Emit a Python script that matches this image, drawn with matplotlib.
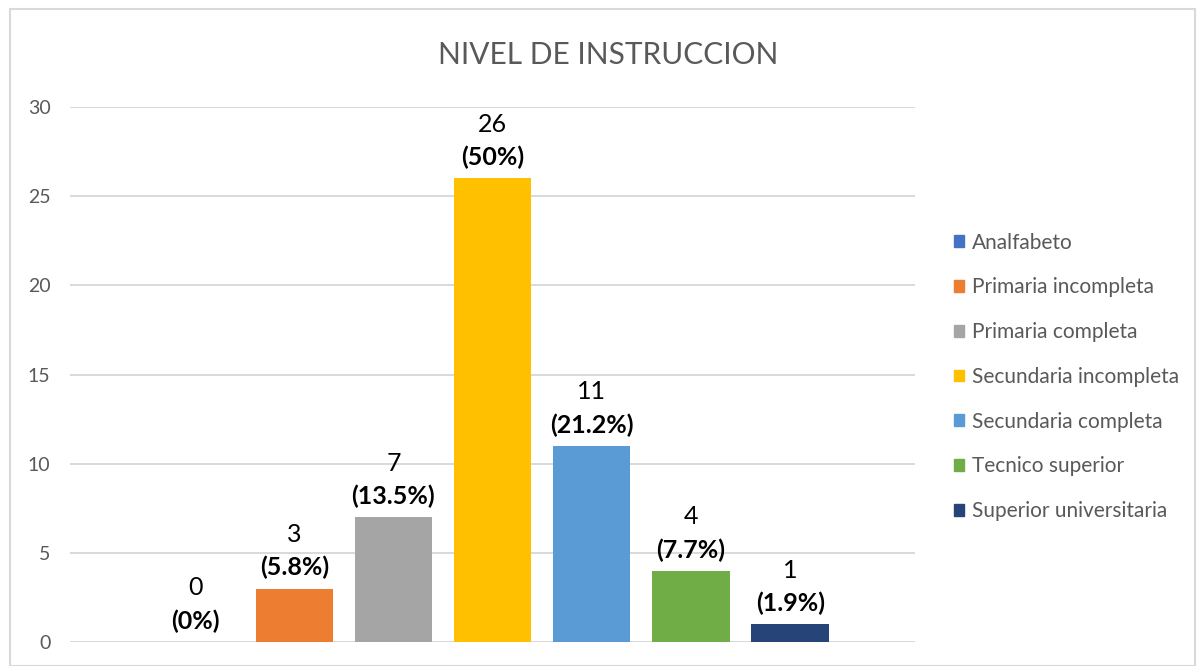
import matplotlib.pyplot as plt
from matplotlib.patches import Rectangle

# Data
categories = ["Analfabeto", "Primaria incompleta", "Primaria completa",
              "Secundaria incompleta", "Secundaria completa",
              "Tecnico superior", "Superior universitaria"]
counts = [0, 3, 7, 26, 11, 4, 1]
percents = ["0%", "5.8%", "13.5%", "50%", "21.2%", "7.7%", "1.9%"]
colors = ["#4472C4", "#ED7D31", "#A5A5A5", "#FFC000",
          "#5B9BD5", "#70AD47", "#264478"]

plt.rcParams['font.family'] = ['Lato', 'DejaVu Sans']
text_gray = "#595959"

fig = plt.figure(figsize=(11.97, 6.66), dpi=100)
ax = fig.add_axes([0.0585, 0.036, 0.706, 0.8033])

x = list(range(len(categories)))
ax.bar(x, counts, width=0.78, color=colors, zorder=3)
handles = [Rectangle((0, 0), 1, 1, color=c) for c in colors]

# two-line labels: count (normal) above percent (bold)
for xi, v, p in zip(x, counts, percents):
    ax.annotate(f"({p})", (xi, v), xytext=(0, 15), textcoords="offset points",
                ha="center", va="center", fontsize=18, fontweight="bold",
                color="black", zorder=4)
    ax.annotate(str(v), (xi, v), xytext=(0, 39), textcoords="offset points",
                ha="center", va="center", fontsize=18, color="black", zorder=4)

ax.set_xlim(-1.26, 7.26)
ax.set_ylim(0, 30)
ax.set_yticks([0, 5, 10, 15, 20, 25, 30])
ax.set_xticks([])
ax.grid(axis="y", color="#D9D9D9", linewidth=1.4, zorder=0)
for s in ["top", "right", "left", "bottom"]:
    ax.spines[s].set_visible(False)
ax.axhline(0, color="#D9D9D9", linewidth=1.4, zorder=1)
ax.tick_params(axis="y", length=0, pad=14, labelsize=14, labelcolor=text_gray)

fig.text(0.508, 0.917, "NIVEL DE INSTRUCCION", ha="center", va="center",
         fontsize=21.5, color=text_gray)

fig.legend(handles, categories, loc="upper left",
           bbox_to_anchor=(0.781, 0.679), frameon=False,
           fontsize=15, labelcolor=text_gray,
           handlelength=0.5, handleheight=0.5, handletextpad=0.4,
           labelspacing=1.19)

# outer chart border
fig.patches.append(Rectangle((0.008, 0.0), 0.99, 0.986, transform=fig.transFigure,
                             fill=False, edgecolor="#D9D9D9", linewidth=1.5))

fig.savefig("out.png", dpi=100)
